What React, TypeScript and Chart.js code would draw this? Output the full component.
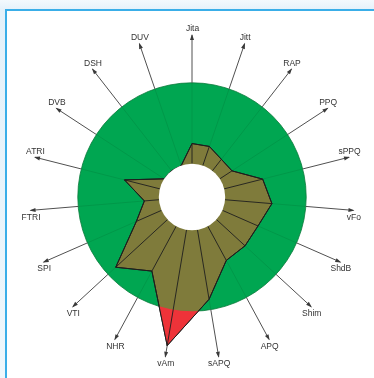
import React, { useEffect, useRef } from "react";
import { Chart, registerables } from "chart.js";

Chart.register(...registerables);

// MDVP voice parameters, clockwise from the top
const categories = [
  "Jita", "Jitt", "RAP", "PPQ", "sPPQ", "vFo", "ShdB", "Shim", "APQ", "sAPQ",
  "vAm", "NHR", "VTI", "SPI", "FTRI", "ATRI", "DVB", "DSH", "DUV",
];

// Values normalised to the norm threshold (1 = edge of the green disc)
const patientValues = [
  0.25, 0.25, 0.18, 0.18, 0.49, 0.58, 0.48, 0.48, 0.48, 0.87,
  1.45, 0.63, 0.87, 0.34, 0.18, 0.45, 0, 0, 0,
];

const normThreshold = 1;
const scaleMin = -0.41; // the white hub covers everything below 0
const scaleMax = 1.59; // arrow tips

const GREEN = "#00a651";
const OLIVE = "#7f7b3b";
const RED = "#ee3339";

const mdvpPlugin = {
  id: "mdvpRadial",
  beforeDatasetsDraw(chart: any) {
    const ctx = chart.ctx as CanvasRenderingContext2D;
    const r = chart.scales.r;
    const cx = r.xCenter;
    const cy = r.yCenter;
    const R0 = r.getDistanceFromCenterForValue(0);
    const R1 = r.getDistanceFromCenterForValue(normThreshold);
    const Rt = r.getDistanceFromCenterForValue(scaleMax);

    ctx.save();
    // normal range disc
    ctx.beginPath();
    ctx.arc(cx, cy, R1, 0, Math.PI * 2);
    ctx.fillStyle = GREEN;
    ctx.fill();
    ctx.lineWidth = 0.8;
    ctx.strokeStyle = "#0b7a3b";
    ctx.stroke();

    categories.forEach((label, i) => {
      const a = r.getPointPosition(i, R0);
      const b = r.getPointPosition(i, R1);
      const t = r.getPointPosition(i, Rt);
      const ang = t.angle;

      // faint axis inside the disc
      ctx.beginPath();
      ctx.moveTo(a.x, a.y);
      ctx.lineTo(b.x, b.y);
      ctx.strokeStyle = "rgba(0,50,20,0.12)";
      ctx.lineWidth = 1;
      ctx.stroke();

      // axis arrow outside the disc
      ctx.beginPath();
      ctx.moveTo(b.x, b.y);
      ctx.lineTo(t.x, t.y);
      ctx.strokeStyle = "#505050";
      ctx.lineWidth = 1;
      ctx.stroke();

      const L = 5;
      const W = 2;
      const cos = Math.cos(ang);
      const sin = Math.sin(ang);
      ctx.beginPath();
      ctx.moveTo(t.x + cos, t.y + sin);
      ctx.lineTo(t.x - L * cos - W * sin, t.y - L * sin + W * cos);
      ctx.lineTo(t.x - L * cos + W * sin, t.y - L * sin - W * cos);
      ctx.closePath();
      ctx.fillStyle = "#3a3a3a";
      ctx.fill();

      // axis label
      ctx.font = "8.5px 'Liberation Sans', Arial, sans-serif";
      ctx.fillStyle = "#333";
      ctx.textAlign = "center";
      ctx.textBaseline = "middle";
      const dy = sin < 0 ? -6 : 7;
      ctx.fillText(label, t.x + 0.5, t.y + dy);
    });
    ctx.restore();
  },
  afterDatasetsDraw(chart: any) {
    const ctx = chart.ctx as CanvasRenderingContext2D;
    const r = chart.scales.r;
    const cx = r.xCenter;
    const cy = r.yCenter;
    const R0 = r.getDistanceFromCenterForValue(0);
    const R1 = r.getDistanceFromCenterForValue(normThreshold);
    const pts = chart.getDatasetMeta(0).data.map((p: any) => ({ x: p.x, y: p.y }));

    const polyPath = () => {
      ctx.beginPath();
      pts.forEach((p: any, i: number) => (i ? ctx.lineTo(p.x, p.y) : ctx.moveTo(p.x, p.y)));
      ctx.closePath();
    };

    ctx.save();
    // part of the profile beyond the norm threshold
    ctx.beginPath();
    ctx.rect(0, 0, chart.width, chart.height);
    ctx.arc(cx, cy, R1, 0, Math.PI * 2, true);
    ctx.clip();
    polyPath();
    ctx.fillStyle = RED;
    ctx.fill();
    ctx.restore();

    ctx.save();
    polyPath();
    ctx.strokeStyle = "#1e1e1e";
    ctx.lineWidth = 1;
    ctx.lineJoin = "miter";
    ctx.stroke();

    // wedge separators from hub to each vertex
    pts.forEach((p: any, i: number) => {
      const a = r.getPointPosition(i, R0);
      ctx.beginPath();
      ctx.moveTo(a.x, a.y);
      ctx.lineTo(p.x, p.y);
      ctx.strokeStyle = "#1e1e1e";
      ctx.lineWidth = 0.9;
      ctx.stroke();
    });

    // white hub
    ctx.beginPath();
    ctx.arc(cx, cy, R0, 0, Math.PI * 2);
    ctx.fillStyle = "#ffffff";
    ctx.fill();
    ctx.restore();
  },
};

export default function App() {
  const canvasRef = useRef<HTMLCanvasElement | null>(null);

  useEffect(() => {
    if (!canvasRef.current) return;
    const chart = new Chart(canvasRef.current, {
      type: "radar",
      data: {
        labels: categories,
        datasets: [
          {
            data: patientValues,
            backgroundColor: OLIVE,
            borderColor: "#1e1e1e",
            borderWidth: 1,
            pointRadius: 0,
            fill: "start",
          },
        ],
      },
      options: {
        responsive: false,
        animation: false,
        events: [],
        layout: { padding: { left: 30, right: 20, top: 35, bottom: 19 } },
        plugins: { legend: { display: false }, tooltip: { enabled: false } },
        scales: {
          r: {
            min: scaleMin,
            max: scaleMax,
            startAngle: 0,
            ticks: { display: false },
            grid: { display: false },
            angleLines: { display: false },
            pointLabels: { display: false },
          },
        },
      },
      plugins: [mdvpPlugin],
    });
    return () => chart.destroy();
  }, []);

  return (
    <div
      style={{
        position: "fixed",
        left: 0,
        top: 0,
        width: 374,
        height: 378,
        overflow: "hidden",
        background: "linear-gradient(#f3f9fd, #e4f1fa 10px, #eef7fc)",
      }}
    >
      <div
        style={{
          position: "absolute",
          left: 5,
          top: 9,
          right: -4,
          bottom: -4,
          background: "#ffffff",
          borderTop: "2px solid #3aaee8",
          borderLeft: "2px solid #3aaee8",
        }}
      />
      <canvas
        ref={canvasRef}
        width={374}
        height={378}
        style={{ position: "absolute", left: 0, top: 0, display: "block" }}
      />
    </div>
  );
}
